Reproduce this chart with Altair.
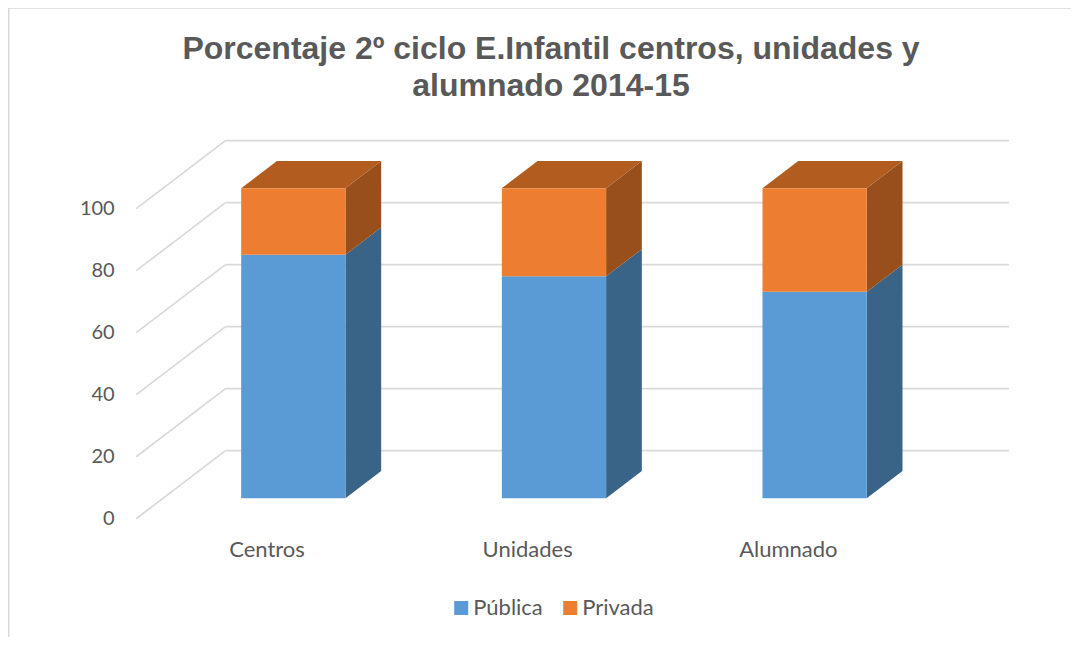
import altair as alt
import pandas as pd

categories = ["Centros", "Unidades", "Alumnado"]
publica = [78.6, 71.6, 66.6]
privada = [21.4, 28.4, 33.4]
ticks = [0, 20, 40, 60, 80, 100]
title_lines = ["Porcentaje 2º ciclo E.Infantil centros, unidades y", "alumnado 2014-15"]

# Layout of the oblique 3-D projection, in scale units
X_MAX = 3.3485
Y_MAX = 122.16
DEPTH_X = 0.3426
DEPTH_Y = 21.94
NEAR, FAR = 0.3, 0.7
BAR_W = 0.4
PX_LEFT, PX_TOP, PLOT_W, PLOT_H = 128.2, 132, 872.8, 378.7
TOTAL_W, TOTAL_H = 1063, 629

GRID = "#D9D9D9"
TEXT = "#595959"
FONT = "Lato"

front_rows, side_rows, top_rows = [], [], []
for i, cat in enumerate(categories):
    left = i + 0.5 - BAR_W / 2
    right = left + BAR_W
    nx, ny = NEAR * DEPTH_X, NEAR * DEPTH_Y
    fx, fy = FAR * DEPTH_X, FAR * DEPTH_Y
    spans = [("Pública", 0, publica[i]), ("Privada", publica[i], publica[i] + privada[i])]
    for name, lo, hi in spans:
        front_rows.append(dict(cat=cat, serie=name, x=left + nx, x2=right + nx, y=lo + ny, y2=hi + ny))
        for px, py in [(nx, ny), (fx, fy)]:
            side_rows.append(dict(face=cat + name, serie=name, x=right + px, y=lo + py, y2=hi + py))
    total = publica[i] + privada[i]
    for px, py in [(nx, ny), (fx, fy)]:
        top_rows.append(dict(face=cat, x=left + px, x2=right + px, y=total + py))

front = pd.DataFrame(front_rows)
side = pd.DataFrame(side_rows)
top = pd.DataFrame(top_rows)
grid = pd.DataFrame({"v": ticks})
grid["back"] = grid["v"] + DEPTH_Y
grid["x0"] = 0.0
grid["xb"] = DEPTH_X
grid["xe"] = X_MAX

xs = alt.Scale(domain=[0, X_MAX], nice=False, zero=False)
ys = alt.Scale(domain=[0, Y_MAX], nice=False, zero=False)

x_axis = alt.Axis(
    values=[0.5, 1.5, 2.5], title=None, grid=False, domain=False, ticks=False,
    labelExpr="['" + "','".join(categories) + "'][floor(datum.value)]",
    labelFont=FONT, labelFontSize=22, labelColor=TEXT, labelPadding=21, labelAngle=0,
)
y_axis = alt.Axis(
    values=ticks, title=None, grid=False, domain=False, ticks=False,
    labelFont=FONT, labelFontSize=20, labelColor=TEXT, labelPadding=22,
)

diag = alt.Chart(grid).mark_rule(color=GRID, strokeWidth=1.7).encode(
    x=alt.X("x0:Q", scale=xs, axis=x_axis), x2="xb:Q",
    y=alt.Y("v:Q", scale=ys, axis=y_axis), y2="back:Q",
)
back = alt.Chart(grid).mark_rule(color=GRID, strokeWidth=1.7).encode(
    x=alt.X("xb:Q", scale=xs), x2="xe:Q", y=alt.Y("back:Q", scale=ys),
)


def side_layer(name, colour):
    return alt.Chart(side[side.serie == name]).mark_area(color=colour, opacity=1).encode(
        x=alt.X("x:Q", scale=xs),
        y=alt.Y("y:Q", scale=ys, stack=None),
        y2="y2:Q",
        detail="face:N",
    )


side_blue = side_layer("Pública", "#3A6487")
side_orange = side_layer("Privada", "#984F1B")

top_faces = alt.Chart(top).mark_area(orient="horizontal", color="#B35C20", opacity=1).encode(
    x=alt.X("x:Q", scale=xs, stack=None),
    x2="x2:Q",
    y=alt.Y("y:Q", scale=ys),
    detail="face:N",
)

bars = alt.Chart(front).mark_bar(opacity=1).encode(
    x=alt.X("x:Q", scale=xs),
    x2="x2:Q",
    y=alt.Y("y:Q", scale=ys, stack=None),
    y2="y2:Q",
    color=alt.Color(
        "serie:N",
        scale=alt.Scale(domain=["Pública", "Privada"], range=["#5B9BD5", "#ED7D31"]),
        sort=["Pública", "Privada"],
        legend=alt.Legend(
            title=None, orient="none", direction="horizontal", legendX=314, legendY=457,
            symbolType="square", symbolSize=196, symbolStrokeWidth=0, labelFont=FONT,
            labelFontSize=22, labelColor=TEXT, labelOffset=1, columnPadding=16, padding=0,
        ),
    ),
)

frame = pd.DataFrame({"k": ["l", "t"]})
left_border = alt.Chart(frame[frame.k == "l"]).mark_rule(color=GRID, strokeWidth=2).encode(
    x=alt.value(-PX_LEFT + 0.5), y=alt.value(-PX_TOP), y2=alt.value(TOTAL_H - PX_TOP)
)
top_border = alt.Chart(frame[frame.k == "t"]).mark_rule(color=GRID, strokeWidth=1.2).encode(
    x=alt.value(-PX_LEFT), x2=alt.value(TOTAL_W - PX_LEFT), y=alt.value(-PX_TOP + 0.2)
)

title_layers = [
    alt.Chart(pd.DataFrame({"t": [line]})).mark_text(
        font="Liberation Sans", fontWeight="bold", fontSize=32, color=TEXT, align="center", baseline="middle"
    ).encode(text="t:N", x=alt.value(551 - 8 - PX_LEFT), y=alt.value(yc - 8 - PX_TOP))
    for line, yc in zip(title_lines, [49, 86])
]

chart = alt.layer(
    left_border, top_border, diag, back,
    side_blue, side_orange, top_faces, bars, *title_layers,
).resolve_scale(x="shared", y="shared").properties(
    width=PLOT_W,
    height=PLOT_H,
    padding=alt.Padding(
        left=PX_LEFT, top=PX_TOP, right=TOTAL_W - PX_LEFT - PLOT_W, bottom=TOTAL_H - PX_TOP - PLOT_H
    ),
    autosize=alt.AutoSizeParams(type="none"),
    background="white",
).configure_view(stroke=None)

chart.save("out.html", embed_options={"renderer": "svg", "actions": False})
